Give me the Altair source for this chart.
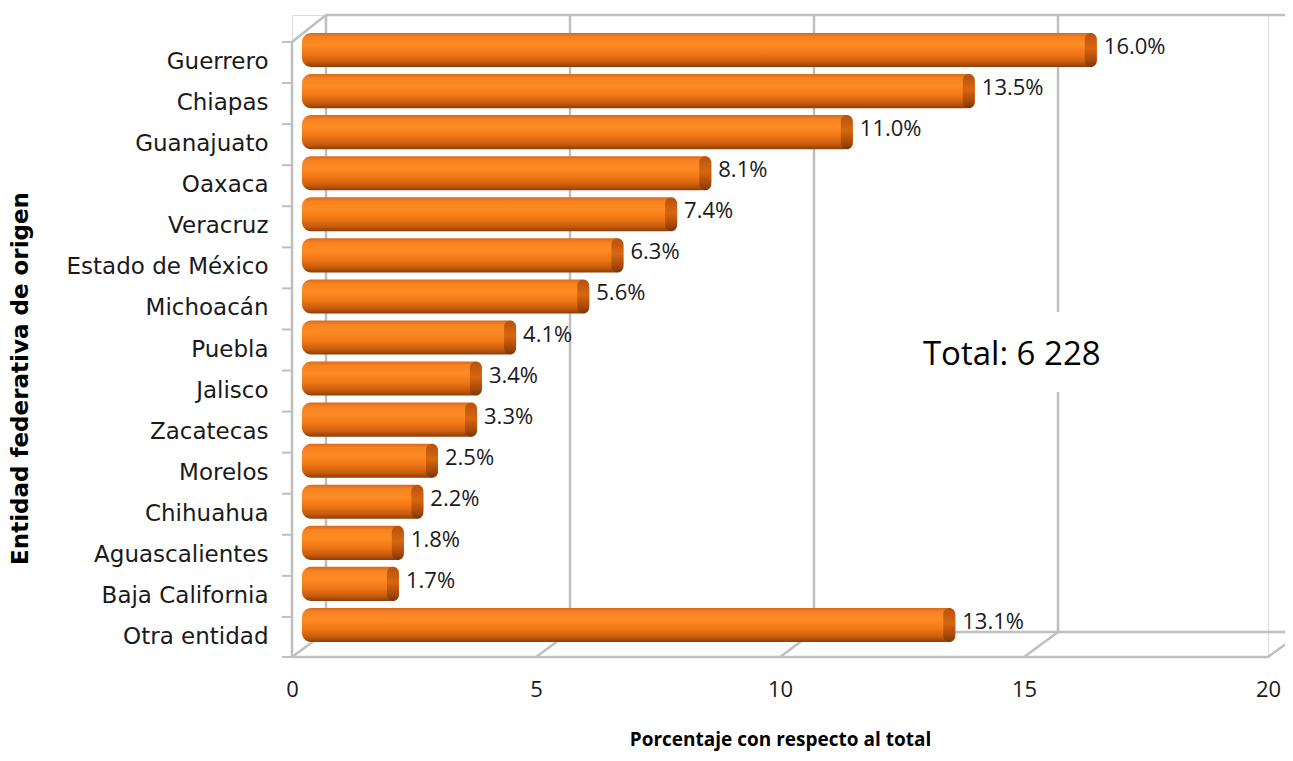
import altair as alt
import pandas as pd

entidades = ["Guerrero", "Chiapas", "Guanajuato", "Oaxaca", "Veracruz", "Estado de México",
             "Michoacán", "Puebla", "Jalisco", "Zacatecas", "Morelos", "Chihuahua",
             "Aguascalientes", "Baja California", "Otra entidad"]
porcentajes = [16.0, 13.5, 11.0, 8.1, 7.4, 6.3, 5.6, 4.1, 3.4, 3.3, 2.5, 2.2, 1.8, 1.7, 13.1]
etiquetas = ["16.0%", "13.5%", "11.0%", "8.1%", "7.4%", "6.3%", "5.6%", "4.1%", "3.4%",
             "3.3%", "2.5%", "2.2%", "1.8%", "1.7%", "13.1%"]
ticks_x = [0, 5, 10, 15, 20]
total_texto = "Total: 6 228"

FONT = "Open Sans"
LFONT = "DejaVu Sans"
W, H = 976, 642
DEPTH_X, DEPTH_Y = 34, 25
GRID = "#BFBFBF"
GW = 2.5
TICK = 10

df = pd.DataFrame({"entidad": entidades, "v": porcentajes, "lab": etiquetas})
grid_df = pd.DataFrame({"g": ticks_x})

xscale = alt.Scale(domain=[0, 20], nice=False, zero=True)
yscale = alt.Scale(domain=entidades, range=[14.5, 630.5], paddingInner=0.17, paddingOuter=0.085)

XAXIS = alt.Axis(values=ticks_x, grid=False, ticks=False, domain=False, labelFlush=False,
                 labelFont=FONT, labelFontSize=22, labelColor="#1A1A1A",
                 labelPadding=22, title="Porcentaje con respecto al total",
                 titleFont=FONT, titleFontSize=19, titleFontWeight="bold",
                 titleColor="#000000", titlePadding=30)
YAXIS = alt.Axis(ticks=False, labelOffset=12, offset=4,
                 domain=False, labelFont=LFONT, labelFontSize=23, labelColor="#1A1A1A",
                 labelLimit=320, labelPadding=20, title="Entidad federativa de origen",
                 titleFont=LFONT, titleFontSize=23, titleFontWeight="bold",
                 titleColor="#000000", titleX=-268, titleY=363,
                 titleAlign="center", titleBaseline="middle", titleAngle=270)


def X(field):
    return alt.X(field, scale=xscale, axis=XAXIS, title="Porcentaje con respecto al total")


def Y(**kw):
    return alt.Y("entidad:N", scale=yscale, sort=entidades, axis=YAXIS,
                 title="Entidad federativa de origen", **kw)


# 3D frame
back_vert = alt.Chart(grid_df).mark_rule(color=GRID, strokeWidth=GW, xOffset=DEPTH_X).encode(
    x=X("g:Q"), y=alt.value(0), y2=alt.value(H - DEPTH_Y))
floor_diag = alt.Chart(grid_df).mark_rule(color=GRID, strokeWidth=GW, x2Offset=DEPTH_X).encode(
    x=X("g:Q"), x2="g:Q", y=alt.value(H), y2=alt.value(H - DEPTH_Y))
back_top = alt.Chart(grid_df).mark_rule(color=GRID, strokeWidth=GW, xOffset=DEPTH_X, x2Offset=DEPTH_X).encode(
    x=X("min(g):Q"), x2="max(g):Q", y=alt.value(0))
back_bot = alt.Chart(grid_df).mark_rule(color=GRID, strokeWidth=GW, xOffset=DEPTH_X, x2Offset=DEPTH_X).encode(
    x=X("min(g):Q"), x2="max(g):Q", y=alt.value(H - DEPTH_Y))
front_bot = alt.Chart(grid_df).mark_rule(color=GRID, strokeWidth=GW).encode(
    x=X("min(g):Q"), x2="max(g):Q", y=alt.value(H))
left_front = alt.Chart(grid_df).transform_aggregate(g="min(g)").mark_rule(color=GRID, strokeWidth=GW).encode(
    x=X("g:Q"), y=alt.value(DEPTH_Y + 2), y2=alt.value(H))
left_diag = alt.Chart(grid_df).transform_aggregate(g="min(g)").mark_rule(color=GRID, strokeWidth=GW, x2Offset=DEPTH_X).encode(
    x=X("g:Q"), x2="g:Q", y=alt.value(DEPTH_Y + 2), y2=alt.value(0))

# category ticks on the front wall
base = alt.Chart(df)
cat_ticks = base.mark_rule(color=GRID, strokeWidth=2, yOffset=9).encode(
    x=alt.value(-TICK), x2=alt.value(0), y=Y(bandPosition=0))
end_tick = alt.Chart(grid_df).transform_aggregate(g="min(g)").mark_rule(color=GRID, strokeWidth=2).encode(
    x=alt.value(-TICK), x2=alt.value(0), y=alt.value(H))

bar_grad = alt.Gradient(
    gradient="linear", x1=0, x2=0, y1=0, y2=1,
    stops=[alt.GradientStop(color="#D9691A", offset=0),
           alt.GradientStop(color="#F7821F", offset=0.12),
           alt.GradientStop(color="#FF8B24", offset=0.35),
           alt.GradientStop(color="#F07716", offset=0.62),
           alt.GradientStop(color="#C95C0D", offset=0.85),
           alt.GradientStop(color="#8C3F08", offset=1)])
cap_grad = alt.Gradient(
    gradient="linear", x1=0, x2=0, y1=0, y2=1,
    stops=[alt.GradientStop(color="#B5530F", offset=0),
           alt.GradientStop(color="#D8660F", offset=0.45),
           alt.GradientStop(color="#A9490A", offset=0.8),
           alt.GradientStop(color="#7A3606", offset=1)])

bars = base.mark_bar(color=bar_grad, cornerRadius=9, xOffset=24, x2Offset=10).encode(
    x=alt.X("v:Q", scale=xscale, stack=None, axis=XAXIS, title="Porcentaje con respecto al total"),
    x2=alt.datum(0),
    y=Y(),
)
caps = base.mark_bar(color=cap_grad, cornerRadius=6, xOffset=24, x2Offset=12).encode(
    x=alt.X("v:Q", scale=xscale, stack=None, axis=XAXIS, title="Porcentaje con respecto al total"),
    x2="v:Q",
    y=Y(),
)
labels = base.mark_text(align="left", baseline="middle", dx=31, dy=-3, font=FONT,
                        fontSize=22, color="#1A1A1A").encode(
    x=alt.X("v:Q", scale=xscale, stack=None, axis=XAXIS, title="Porcentaje con respecto al total"),
    y=Y(),
    text="lab:N",
)

mask = alt.Chart(grid_df).transform_filter("datum.g == 15").mark_rule(
    color="white", strokeWidth=10, xOffset=DEPTH_X).encode(
    x=X("g:Q"), y=alt.value(297), y2=alt.value(377))
total = alt.Chart(pd.DataFrame({"t": [total_texto], "x": [14.75]})).mark_text(
    align="center", baseline="middle", font=FONT, fontSize=33, color="#000000").encode(
    x=X("x:Q"), y=alt.value(340), text="t:N")

chart = alt.layer(back_vert, floor_diag, back_top, back_bot, front_bot, left_front, left_diag,
                  cat_ticks, end_tick, bars, caps, labels, mask, total).properties(
    width=W, height=H,
    autosize=alt.AutoSizeParams(type="none"),
    padding={"left": 284, "top": 7, "right": 17, "bottom": 96},
).configure_view(stroke=None).configure(background="white")

chart.save("out.html", embed_options={"renderer": "svg", "actions": False})
